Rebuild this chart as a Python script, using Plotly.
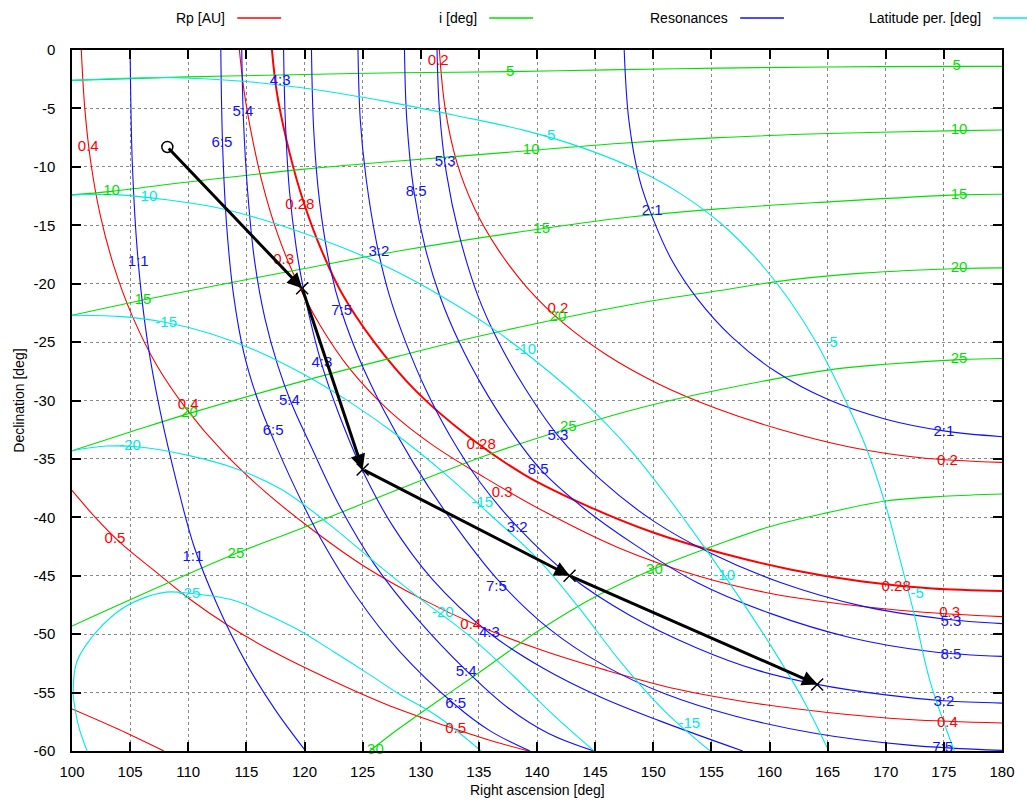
import plotly.graph_objects as go

# ---------------- data ----------------
# Perihelion distance curves Rp [AU]  (RA, Dec) points
rp_0_2 = [(131.6, 0), (132.1, -5), (133.1, -9.6), (134.6, -13.5), (136.6, -17), (139.2, -20.4),
          (142.3, -23.4), (146, -26.1), (150.5, -28.6), (155.5, -30.7), (161, -32.5), (167, -34),
          (173, -34.9), (180, -35.3)]
rp_0_28 = [(117.2, 0), (117.6, -3.5), (118.4, -7.5), (119.6, -12), (121.2, -16.5), (123.2, -20.8),
           (126, -25), (129.6, -29.2), (134, -33), (139, -36.4), (144.5, -39.1), (150, -41.3),
           (156, -43.1), (162, -44.5), (168, -45.5), (174, -46.1), (180, -46.3)]
rp_0_3 = [(114.4, 0), (114.8, -3.5), (115.5, -7.5), (116.4, -11.5), (117.6, -15.5), (119.2, -19.5),
          (121.3, -23.5), (123.9, -27.3), (127.2, -30.8), (131, -33.8), (135.5, -36.6), (141, -39.7),
          (147, -42.6), (153.8, -45), (160, -46.5), (166, -47.4), (173, -48.1), (180, -48.5)]
rp_0_4 = [(100.8, 0), (101.1, -5), (101.6, -9.5), (102.4, -14), (103.6, -18.5), (105.2, -22.8),
          (107.3, -27), (109.9, -30.8), (113, -34.4), (116.6, -37.8), (120.6, -41), (125.3, -44.3),
          (130.1, -47), (135, -49.3), (140.5, -51.4), (146, -53.1), (152, -54.7), (158, -55.8),
          (165, -56.7), (172, -57.3), (180, -57.6)]
rp_0_5 = [(100, -37.7), (102, -40), (104.3, -42.3), (107, -44.5), (110, -46.9), (113.5, -49.3),
          (117.5, -51.6), (122, -53.8), (127, -56), (132, -57.8), (136, -59.1), (139.3, -60)]
rp_0_6 = [(100, -56.4), (103.9, -58.1), (107.9, -60)]

# Inclination curves i [deg]
inc_5 = [(100, -2.6), (110, -2.3), (120, -2.1), (128.1, -1.95), (137.7, -1.85), (146, -1.7),
         (155.6, -1.55), (165, -1.45), (176.1, -1.4), (180, -1.4)]
inc_10 = [(100, -12.4), (103.4, -12.1), (110, -11.3), (120, -10.2), (128.1, -9.5), (139.5, -8.6),
          (147, -8), (155.6, -7.5), (165, -7.15), (176.3, -6.9), (180, -6.85)]
inc_15 = [(100, -22.7), (106.1, -21.4), (110.1, -20.6), (120, -18.7), (128.1, -17.2), (140.4, -15.3),
          (148, -14.3), (155.6, -13.6), (165, -13), (176.3, -12.4), (180, -12.35)]
inc_20 = [(100, -34.3), (105, -32.7), (110.1, -31.1), (120, -28.3), (128.1, -26.2), (135, -24.5),
          (141.9, -23), (148, -21.8), (155.6, -20.6), (161.6, -19.7), (168, -19.1), (176.4, -18.7), (180, -18.65)]
inc_25 = [(100, -49.3), (107.6, -45.9), (114.1, -43.1), (119.6, -41), (128.1, -37.6), (135.9, -34.6),
          (142.7, -32.4), (149, -30.6), (155.6, -29.1), (165, -27.4), (170, -26.9), (176.4, -26.5), (180, -26.4)]
inc_30 = [(125.6, -60), (128.1, -58.1), (131.5, -55.7), (135, -53.3), (140, -49.8), (145, -46.8),
          (150.1, -44.4), (155.6, -42.3), (160, -40.8), (165, -39.6), (170, -38.6), (175, -38.2), (180, -38)]

# Resonance curves
res_1_1 = [(105, 0), (105.2, -10), (105.7, -18.2), (106.5, -25), (107.6, -31), (109, -37), (110.5, -42.5),
           (112.5, -47.5), (115, -52.5), (117.5, -56.5), (120.1, -60)]
res_6_5 = [(112.8, 0), (112.95, -8), (113.3, -15), (113.9, -21), (114.8, -26), (116, -30), (117.4, -33.5),
           (119.2, -37.5), (121.5, -42), (124.5, -46.8), (128.2, -51.5), (132.9, -56), (136, -58.3), (139.4, -60)]
res_5_4 = [(114.6, 0), (114.75, -6), (115.1, -12), (115.7, -18), (116.6, -23), (117.7, -27), (118.9, -30.3),
           (120.6, -34), (123, -39), (126, -44), (129.8, -48.8), (133.9, -53.1), (137.5, -56.3),
           (141, -58.5), (144.9, -60)]
res_4_3 = [(118.2, 0), (118.35, -6), (118.7, -12), (119.3, -17), (119.9, -20.4), (120.7, -24),
           (121.6, -27.3), (122.9, -31), (124.9, -35.8), (127.5, -40.6), (131, -45.3), (135.9, -49.9),
           (140.5, -52.9), (145.5, -55.4), (150.5, -57.4), (157.7, -60)]
res_7_5 = [(120.6, 0), (120.8, -7), (121.3, -13), (122.2, -18.6), (123.2, -22.4), (124.7, -26.4),
           (126.8, -30.8), (129.4, -35.4), (132.6, -40.2), (136.5, -45.2), (141, -49.5), (146, -52.8),
           (151, -55.1), (157, -57), (164, -58.5), (172, -59.5), (180, -59.95)]
res_3_2 = [(124.6, 0), (124.8, -6), (125.3, -11), (126.2, -16.5), (127.3, -21), (128.7, -25),
           (130.4, -29), (132.5, -33), (135.1, -37), (138.3, -40.8), (142.8, -45), (148, -48.4),
           (153.8, -51.2), (159, -53.1), (164.1, -54.3), (170, -55.2), (175, -55.7), (180, -55.9)]
res_8_5 = [(128.6, 0), (128.8, -6), (129.4, -12), (130.4, -17), (131.7, -21.2), (133.3, -25),
           (135.2, -28.6), (137.6, -32.4), (140.3, -35.9), (144, -39.2), (148.5, -42.4), (153.8, -45.6),
           (160, -48.2), (167, -50.3), (174, -51.5), (180, -51.9)]
res_5_3 = [(131.4, 0), (131.6, -5), (132.2, -10.5), (133.3, -15.8), (134.9, -21), (136.7, -25),
           (139, -29), (141.8, -33), (145.5, -36.8), (150, -40.3), (155, -43.1), (161, -45.6),
           (168, -47.6), (175, -48.7), (180, -49.1)]
res_2_1 = [(147.5, 0), (147.9, -6), (148.8, -11), (150, -14.5), (151.6, -18), (153.8, -21.3),
           (156.8, -24.6), (160.5, -27.5), (165, -29.9), (170, -31.6), (175, -32.6), (180, -33.1)]

# Latitude of perihelion curves
lat_m5 = [(100, -2.6), (108, -2.35), (115, -2.7), (121, -3.4), (127, -4.4), (133, -5.6), (139, -6.9),
          (144, -8.4), (148.7, -10.3), (152.5, -12.4), (156, -15), (159, -18), (161.7, -21.4),
          (164, -25), (166.3, -29.5), (168.3, -34), (170, -39), (171.2, -43.5), (172.5, -48.5),
          (173.8, -54), (175.9, -60)]
lat_m10 = [(100, -12.4), (104, -12.4), (108, -12.8), (112, -13.4), (116, -14.4), (120, -15.7),
           (124, -17.2), (128, -19), (132, -21.2), (136, -23.7), (140, -26.7), (144, -30.1),
           (148, -34.2), (151.5, -38.6), (154.5, -42.7), (157.5, -47), (160.5, -51.6), (163, -55.8),
           (165.1, -60)]
lat_m15 = [(100, -22.7), (104, -22.8), (108, -23.3), (112, -24.3), (116, -25.8), (120, -27.8),
           (124, -30.2), (128, -33), (132, -36.2), (136, -39.8), (140, -43.5), (143.5, -47.6),
           (147.3, -52.5), (151, -56.6), (154.9, -60)]
lat_m20 = [(100, -34.3), (103, -33.9), (106, -34), (110, -34.7), (114, -35.8), (118, -37.6),
           (122, -40.5), (126, -43.8), (130, -47), (134, -50), (138, -53.6), (141.5, -57), (144.9, -60)]
lat_m25 = [(101.3, -60), (100.6, -58), (100.2, -56), (100.1, -55), (100.4, -52.4), (101.6, -50.4),
           (103.9, -48.1), (105.9, -47), (108.1, -46.4), (110.1, -46.5), (113.9, -47.1), (116.5, -48.2),
           (119.6, -49.7), (122.5, -51.5), (125.5, -53.4), (128.1, -55.1), (131.4, -57), (135.2, -60)]

# Curve labels (RA, Dec, text)
rp_labels = [(131.5, -1.0, "0.2"), (141.8, -22.2, "0.2"), (175.3, -35.2, "0.2"),
             (119.6, -13.3, "0.28"), (135.2, -33.8, "0.28"), (170.9, -46.0, "0.28"),
             (118.2, -18.0, "0.3"), (137.0, -37.9, "0.3"), (175.5, -48.2, "0.3"),
             (101.4, -8.3, "0.4"), (110.0, -30.4, "0.4"), (134.3, -49.2, "0.4"), (175.3, -57.6, "0.4"),
             (103.7, -41.9, "0.5"), (133.0, -58.1, "0.5")]
inc_labels = [(137.7, -1.9, "5"), (176.1, -1.4, "5"),
              (103.4, -12.1, "10"), (139.5, -8.6, "10"), (176.3, -6.9, "10"),
              (106.1, -21.4, "15"), (140.4, -15.3, "15"), (176.3, -12.4, "15"),
              (110.1, -31.1, "20"), (141.8, -22.9, "20"), (176.3, -18.7, "20"),
              (114.1, -43.2, "25"), (142.7, -32.3, "25"), (176.3, -26.5, "25"),
              (126.1, -59.9, "30"), (150.1, -44.5, "30")]
res_labels = [(105.7, -18.2, "1:1"), (110.4, -43.4, "1:1"),
              (112.9, -8.0, "6:5"), (117.3, -32.6, "6:5"), (133.0, -56.0, "6:5"),
              (114.7, -5.3, "5:4"), (118.7, -30.1, "5:4"), (133.9, -53.3, "5:4"),
              (117.9, -2.7, "4:3"), (121.5, -26.8, "4:3"), (135.9, -49.9, "4:3"),
              (123.2, -22.4, "7:5"), (136.5, -46.0, "7:5"), (174.9, -59.8, "7:5"),
              (126.4, -17.3, "3:2"), (138.3, -40.9, "3:2"), (175.0, -55.8, "3:2"),
              (129.6, -12.2, "8:5"), (140.1, -36.0, "8:5"), (175.6, -51.8, "8:5"),
              (132.1, -9.6, "5:3"), (141.8, -33.1, "5:3"), (175.6, -49.0, "5:3"),
              (149.9, -13.8, "2:1"), (175.0, -32.7, "2:1")]
lat_labels = [(141.0, -7.4, "-5"), (165.3, -25.1, "-5"), (172.7, -46.6, "-5"),
              (106.4, -12.6, "-10"), (139.0, -25.7, "-10"), (156.1, -45.0, "-10"),
              (108.1, -23.4, "-15"), (135.3, -38.8, "-15"), (153.1, -57.7, "-15"),
              (105.0, -33.9, "-20"), (131.9, -48.2, "-20"),
              (110.1, -46.6, "-25")]

# Trajectory (RA, Dec)
traj_ra = [108.2, 119.8, 125.0, 142.8, 164.1]
traj_dec = [-8.3, -20.4, -35.9, -45.0, -54.3]

x_ticks = list(range(100, 181, 5))
y_ticks = list(range(-60, 1, 5))

legend_items = [("Rp [AU]", "#ff0000"), ("i [deg]", "#00e000"),
                ("Resonances", "#1010ff"), ("Latitude per. [deg]", "#00e8e8")]

# ---------------- figure ----------------
RED, GREEN, BLUE, CYAN = "#ff0000", "#00e000", "#1010ff", "#00e8e8"
FONT = "Liberation Sans, Arial, sans-serif"

fig = go.Figure()


def add_curve(pts, color, width=1.1):
    fig.add_trace(go.Scatter(x=[p[0] for p in pts], y=[p[1] for p in pts], mode="lines",
                             line=dict(color=color, width=width, shape="spline", smoothing=1.0),
                             hoverinfo="skip", showlegend=False))


for c in [rp_0_2, rp_0_3, rp_0_4, rp_0_5, rp_0_6]:
    add_curve(c, RED)
add_curve(rp_0_28, RED, 2.0)
for c in [inc_5, inc_10, inc_15, inc_20, inc_25, inc_30]:
    add_curve(c, GREEN)
for c in [res_1_1, res_6_5, res_5_4, res_4_3, res_7_5, res_3_2, res_8_5, res_5_3, res_2_1]:
    add_curve(c, BLUE)
for c in [lat_m5, lat_m10, lat_m15, lat_m20, lat_m25]:
    add_curve(c, CYAN)


def add_labels(labels, color):
    fig.add_trace(go.Scatter(x=[l[0] for l in labels], y=[l[1] for l in labels],
                             text=[l[2] for l in labels], mode="text",
                             textfont=dict(color=color, size=15, family=FONT),
                             textposition="middle center", cliponaxis=False,
                             hoverinfo="skip", showlegend=False))


add_labels(rp_labels, RED)
add_labels(inc_labels, GREEN)
add_labels(res_labels, BLUE)
add_labels(lat_labels, CYAN)

# trajectory arrows
for i in range(len(traj_ra) - 1):
    fig.add_annotation(x=traj_ra[i + 1], y=traj_dec[i + 1], ax=traj_ra[i], ay=traj_dec[i],
                       xref="x", yref="y", axref="x", ayref="y", text="", showarrow=True,
                       arrowhead=2, arrowsize=1.0, arrowwidth=3, arrowcolor="black", standoff=0)

fig.add_trace(go.Scatter(x=traj_ra[:1], y=traj_dec[:1], mode="markers",
                         marker=dict(symbol="circle-open", size=11, color="black", line=dict(width=1.5)),
                         hoverinfo="skip", showlegend=False))
fig.add_trace(go.Scatter(x=traj_ra[1:], y=traj_dec[1:], mode="markers",
                         marker=dict(symbol="x-thin-open", size=12, color="black", line=dict(width=1.5, color="black")),
                         hoverinfo="skip", showlegend=False))

# manual legend (text then line sample, gnuplot style)
L, R, T, B = 72, 1006, 50, 751
PW, PH = R - L, B - T
leg_text_right = [228, 481, 733, 987]
for (name, col), xr in zip(legend_items, leg_text_right):
    fig.add_annotation(x=(xr - L) / PW, y=1 + (T - 18) / PH, xref="paper", yref="paper",
                       text=name, showarrow=False, xanchor="right", yanchor="middle",
                       font=dict(size=14, family=FONT, color="black"))
    fig.add_shape(type="line", xref="paper", yref="paper",
                  x0=(xr + 10 - L) / PW, x1=(xr + 54 - L) / PW,
                  y0=1 + (T - 18) / PH, y1=1 + (T - 18) / PH,
                  line=dict(color=col, width=1.5))

# axis titles
fig.add_annotation(x=0.5, y=-(790 - B) / PH, xref="paper", yref="paper", text="Right ascension [deg]",
                   showarrow=False, xanchor="center", yanchor="middle",
                   font=dict(size=14, family=FONT, color="black"))
fig.add_annotation(x=(18 - L) / PW, y=0.5, xref="paper", yref="paper", text="Declination [deg]",
                   showarrow=False, textangle=-90, xanchor="center", yanchor="middle",
                   font=dict(size=14, family=FONT, color="black"))

axis_common = dict(showline=True, linecolor="black", linewidth=1.5, mirror="ticks",
                   ticks="inside", ticklen=9, tickwidth=1.5, tickcolor="black",
                   showgrid=True, gridcolor="#888888", griddash="dot", gridwidth=1,
                   zeroline=False, tickfont=dict(size=15, family=FONT, color="black"))

fig.update_xaxes(range=[100, 180], tickvals=x_ticks, ticktext=[str(v) for v in x_ticks],
                 ticklabelstandoff=6, **axis_common)
fig.update_yaxes(range=[-60, 0], tickvals=y_ticks, ticktext=[str(v) for v in y_ticks],
                 ticklabelstandoff=12, **axis_common)

fig.update_layout(width=1027, height=805, margin=dict(l=L, r=1027 - R, t=T, b=805 - B),
                  plot_bgcolor="white", paper_bgcolor="white", showlegend=False,
                  font=dict(family=FONT))

fig.write_html("out.html")
